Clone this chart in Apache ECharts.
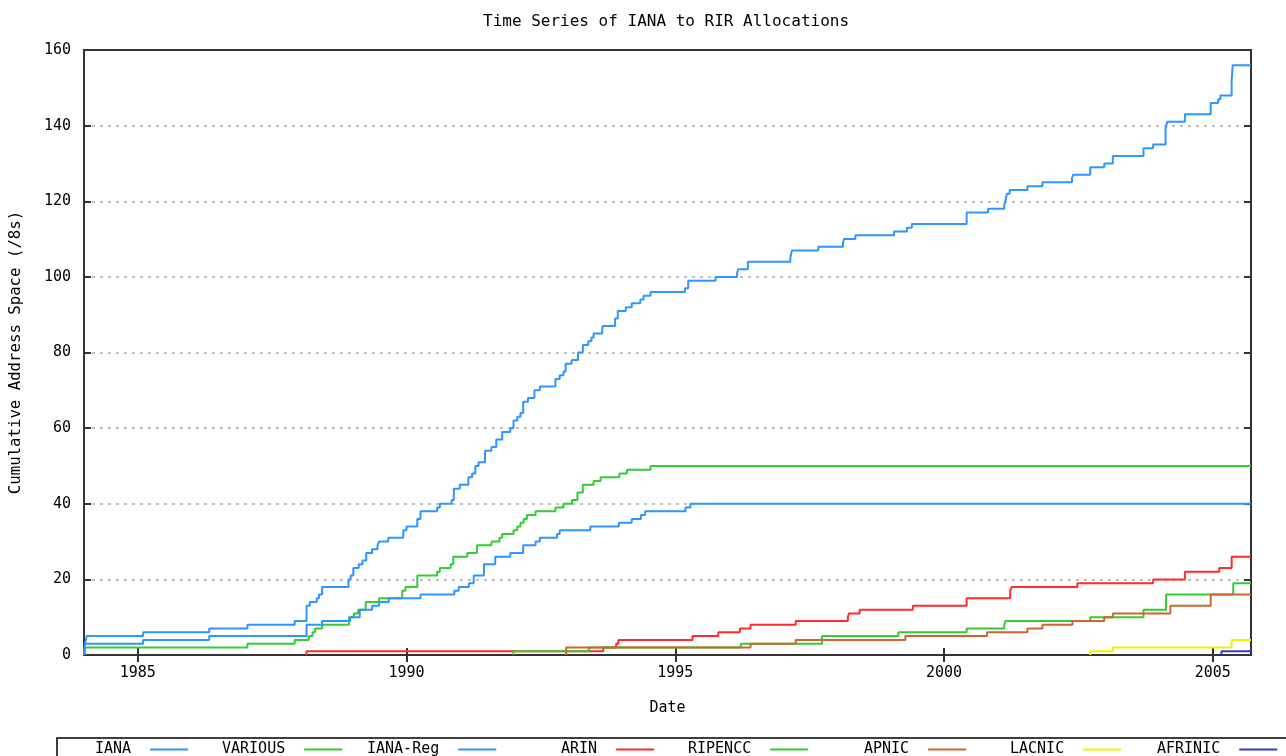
<!DOCTYPE html>
<html>
<head>
<meta charset="utf-8">
<title>Time Series of IANA to RIR Allocations</title>
<script src="https://cdn.jsdelivr.net/npm/echarts@6/dist/echarts.min.js"></script>
<style>
  html, body { margin: 0; padding: 0; background: #fff; }
  #main { width: 1286px; height: 756px; }
</style>
</head>
<body>
<div id="main"></div>
<script>
// cumulative /8s, [decimal year, value after allocation]
var iana = [[1984.0,0],[1984.02,3],[1984.05,5],[1985.10,6],[1986.33,7],[1987.04,8],[1987.92,9],[1988.14,13],[1988.20,14],[1988.33,15],[1988.37,16],[1988.43,18],[1988.92,20],[1988.96,21],[1989.01,23],[1989.11,24],[1989.18,25],[1989.25,27],[1989.36,28],[1989.46,29],[1989.49,30],[1989.66,31],[1989.94,33],[1990.00,34],[1990.20,36],[1990.26,38],[1990.57,39],[1990.62,40],[1990.84,41],[1990.88,44],[1990.99,45],[1991.15,47],[1991.22,48],[1991.28,50],[1991.34,51],[1991.46,54],[1991.58,55],[1991.67,57],[1991.78,59],[1991.93,60],[1991.99,62],[1992.06,63],[1992.12,64],[1992.17,67],[1992.26,68],[1992.38,70],[1992.48,71],[1992.77,73],[1992.85,74],[1992.92,75],[1992.96,77],[1993.07,78],[1993.19,80],[1993.28,82],[1993.38,83],[1993.44,84],[1993.48,85],[1993.64,86],[1993.65,87],[1993.88,89],[1993.93,91],[1994.08,92],[1994.19,93],[1994.35,94],[1994.41,95],[1994.54,96],[1995.18,97],[1995.24,99],[1995.75,100],[1996.15,101],[1996.17,102],[1996.35,104],[1997.14,105],[1997.17,107],[1997.66,108],[1998.12,109],[1998.14,110],[1998.35,111],[1999.07,112],[1999.31,113],[1999.40,114],[2000.42,117],[2000.82,118],[2001.12,119],[2001.14,120],[2001.17,122],[2001.22,123],[2001.55,124],[2001.83,125],[2002.38,126],[2002.40,127],[2002.72,129],[2002.98,130],[2003.14,132],[2003.71,134],[2003.89,135],[2004.12,139],[2004.15,141],[2004.48,143],[2004.96,146],[2005.10,147],[2005.14,148],[2005.35,152],[2005.37,156],[2005.71,156]];
var various = [[1984.02,0],[1984.02,2],[1987.04,3],[1987.92,4],[1988.18,5],[1988.25,6],[1988.30,7],[1988.43,8],[1988.93,10],[1989.02,11],[1989.10,12],[1989.24,14],[1989.49,15],[1989.92,17],[1989.98,18],[1990.20,21],[1990.57,22],[1990.62,23],[1990.82,24],[1990.87,26],[1991.13,27],[1991.31,29],[1991.58,30],[1991.73,31],[1991.78,32],[1991.99,33],[1992.06,34],[1992.12,35],[1992.18,36],[1992.24,37],[1992.40,38],[1992.77,39],[1992.92,40],[1993.08,41],[1993.18,43],[1993.28,45],[1993.48,46],[1993.61,47],[1993.96,48],[1994.10,49],[1994.54,50],[2005.71,50]];
var ianaReg = [[1984.0,0],[1984.02,3],[1985.10,4],[1986.33,5],[1988.14,8],[1988.43,9],[1988.95,10],[1989.13,12],[1989.36,13],[1989.49,14],[1989.67,15],[1990.26,16],[1990.89,17],[1990.97,18],[1991.16,19],[1991.25,21],[1991.44,24],[1991.65,26],[1991.93,27],[1992.17,29],[1992.40,30],[1992.48,31],[1992.80,32],[1992.85,33],[1993.42,34],[1993.95,35],[1994.19,36],[1994.36,37],[1994.44,38],[1995.19,39],[1995.28,40],[2005.71,40]];
var arin = [[1988.14,0],[1988.14,1],[1993.66,2],[1993.90,3],[1993.94,4],[1995.32,5],[1995.80,6],[1996.20,7],[1996.40,8],[1997.24,9],[1998.21,10],[1998.23,11],[1998.43,12],[1999.42,13],[2000.42,15],[2001.23,17],[2001.26,18],[2002.48,19],[2003.89,20],[2004.48,22],[2005.12,23],[2005.35,26],[2005.71,26]];
var ripencc = [[1991.99,0],[1991.99,1],[1993.39,2],[1996.22,3],[1997.73,5],[1999.15,6],[2000.42,7],[2001.12,8],[2001.14,9],[2002.72,10],[2003.71,12],[2004.13,16],[2005.38,19],[2005.71,19]];
var apnic = [[1992.97,0],[1992.97,2],[1996.40,3],[1997.24,4],[1999.28,5],[2000.80,6],[2001.55,7],[2001.83,8],[2002.39,9],[2002.98,10],[2003.14,11],[2004.21,13],[2004.96,16],[2005.71,16]];
var lacnic = [[2002.72,0],[2002.72,1],[2003.14,2],[2005.35,4],[2005.71,4]];
var afrinic = [[2005.16,0],[2005.16,1],[2005.71,1]];

var yearTicks = [1985, 1990, 1995, 2000, 2005];
var names = ['IANA', 'VARIOUS', 'IANA-Reg', 'ARIN', 'RIPENCC', 'APNIC', 'LACNIC', 'AFRINIC'];
var colors = ['#2f95ff', '#33cc33', '#2f95ff', '#ff2a2a', '#33cc33', '#cc6633', '#f2f200', '#3a3ac8'];
var seriesData = [iana, various, ianaReg, arin, ripencc, apnic, lacnic, afrinic];
var legendLeft = [95, 222, 367, 561, 688, 864, 1010, 1157];

var mono = 'DejaVu Sans Mono';
var myChart = echarts.init(document.getElementById('main'));

var series = names.map(function (n, i) {
  return {
    name: n,
    type: 'line',
    step: 'end',
    symbol: 'none',
    animation: false,
    data: seriesData[i],
    lineStyle: { color: colors[i], width: 2 },
    itemStyle: { color: colors[i] }
  };
});

var legends = names.map(function (n, i) {
  return {
    data: [n],
    left: legendLeft[i],
    top: 742,
    align: 'right',
    icon: 'rect',
    itemWidth: 38,
    itemHeight: 2,
    selectedMode: false,
    padding: 0,
    textStyle: { fontFamily: mono, fontSize: 15, color: '#000', padding: [0, 14, 0, 0] }
  };
});

var frameLine = { show: true, lineStyle: { color: '#333', width: 2 } };
var inTick = { inside: true, length: 7, lineStyle: { color: '#333', width: 2 } };

option = {
  backgroundColor: '#fff',
  animation: false,
  title: {
    text: 'Time Series of IANA to RIR Allocations',
    left: 478,
    top: 9,
    textStyle: { fontFamily: mono, fontSize: 16, fontWeight: 'normal', color: '#000' }
  },
  legend: legends,
  grid: {
    left: 84, right: 35, top: 50, bottom: 101,
    show: true, borderColor: '#333', borderWidth: 2
  },
  xAxis: [{
    type: 'value',
    min: 1984, max: 2005.71,
    name: 'Date',
    nameLocation: 'middle',
    nameGap: 46,
    nameTextStyle: { fontFamily: mono, fontSize: 15, color: '#000' },
    axisLine: frameLine,
    axisTick: Object.assign({ customValues: yearTicks }, inTick),
    axisLabel: { customValues: yearTicks, margin: 11, fontFamily: mono, fontSize: 15, color: '#000',
      formatter: function (v) { return String(v); } },
    splitLine: { show: false }
  }, {
    type: 'value',
    position: 'top',
    min: 1984, max: 2005.71,
    axisLine: frameLine,
    axisTick: Object.assign({ customValues: yearTicks }, inTick),
    axisLabel: { show: false },
    splitLine: { show: false }
  }],
  yAxis: [{
    type: 'value',
    min: 0, max: 160, interval: 20,
    name: 'Cumulative Address Space (/8s)',
    nameLocation: 'middle',
    nameGap: 60,
    nameTextStyle: { fontFamily: mono, fontSize: 15.7, color: '#000' },
    axisLine: frameLine,
    axisTick: inTick,
    axisLabel: { margin: 13, fontFamily: mono, fontSize: 15, color: '#000' },
    splitLine: { show: true, showMinLine: false, showMaxLine: false,
      lineStyle: { color: '#aaa', width: 1.5, type: [3, 5] } }
  }, {
    type: 'value',
    position: 'right',
    min: 0, max: 160, interval: 20,
    axisLine: frameLine,
    axisTick: inTick,
    axisLabel: { show: false },
    splitLine: { show: false }
  }],
  graphic: [{
    type: 'rect',
    shape: { x: 57, y: 738, width: 1300, height: 40 },
    style: { fill: 'none', stroke: '#000', lineWidth: 1.5 },
    silent: true
  }],
  series: series
};
myChart.setOption(option);
</script>
</body>
</html>
